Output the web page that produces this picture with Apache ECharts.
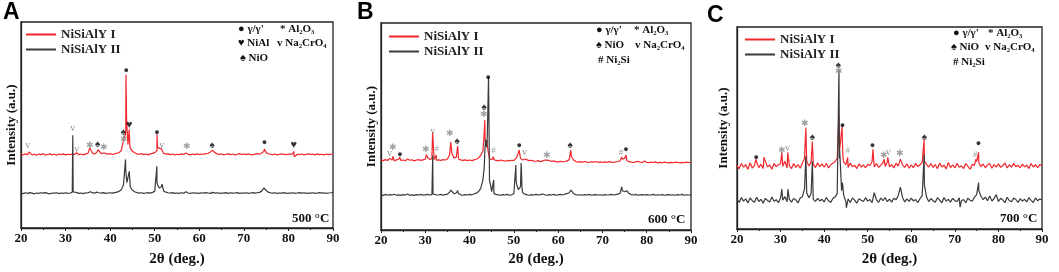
<!DOCTYPE html>
<html lang="en" style="height: 100%">
<head>
  <meta charset="utf-8">
</head>
<body style="height: 100%; margin: 0; background: #fff">
  <div id="container" style="width: 1059px; height: 272px"></div>

  <script type="text/javascript" src="https://fastly.jsdelivr.net/npm/echarts@6/dist/echarts.min.js"></script>
  <script type="text/javascript">
// baselines are sampled every 0.5 deg from 20 to 90; peaks are extra [2theta, intensity] points
var redA = [
  35.9, 35.4, 36.0, 35.6, 36.3, 35.5, 35.8, 35.3, 35.9, 35.6,
  36.1, 35.4, 35.7, 36.0, 35.5, 35.8, 35.3, 35.9, 35.6, 36.0,
  35.5, 35.8, 35.6, 35.9, 35.7, 36.5, 35.6, 35.9, 35.5, 36.0,
  36.2, 37.9, 36.4, 35.9, 36.6, 37.4, 36.1, 36.4, 36.2, 35.8,
  36.1, 35.7, 36.0, 36.3, 36.6, 37.6, 42.5, 46.0, 40.5, 38.8,
  37.2, 36.5, 36.0, 35.8, 36.1, 35.6, 35.9, 35.5, 36.0, 36.2,
  36.6, 37.5, 38.2, 38.4, 36.2, 35.9, 36.0, 35.6, 35.9, 35.5,
  35.8, 35.6, 36.0, 35.7, 36.4, 35.8, 35.5, 35.9, 35.6, 36.0,
  35.7, 35.9, 35.8, 36.1, 36.3, 36.9, 37.8, 36.6, 36.0, 35.7,
  35.9, 35.5, 35.8, 36.0, 35.6, 35.9, 35.4, 35.8, 36.1, 35.7,
  35.9, 35.6, 36.0, 35.7, 35.5, 35.9, 36.1, 35.8, 36.4, 37.2,
  36.6, 36.0, 35.8, 35.6, 35.9, 35.5, 35.8, 36.0, 35.7, 35.6,
  35.9, 35.7, 36.2, 35.2, 35.8, 35.6, 35.9, 35.5, 35.8, 36.0,
  35.7, 35.9, 35.5, 36.0, 35.6, 35.8, 35.5, 35.9, 35.6, 35.8,
  36.0
];
var redAPeaks = [[21.8, 36.9], [32.5, 37.0], [35.45, 38.8], [37.25, 38.0], [38.7, 37.3],
  [43.55, 74.4], [43.7, 52], [44.28, 47.8], [44.4, 41], [50.52, 45.4], [50.65, 39],
  [51.62, 39.2], [57.3, 37.2], [74.6, 38.4], [81.2, 37.2], [81.3, 34.6]];

var blackA = [
  17.0, 16.7, 17.1, 16.8, 17.2, 16.9, 16.6, 17.0, 16.8, 17.1,
  16.9, 17.2, 16.8, 16.6, 17.0, 16.9, 17.1, 16.7, 17.0, 16.8,
  17.1, 16.8, 17.0, 17.3, 16.9, 17.2, 16.8, 17.0, 16.7, 17.1,
  17.0, 17.6, 17.2, 16.9, 17.4, 17.1, 16.9, 17.2, 16.8, 17.0,
  17.1, 16.9, 17.2, 17.4, 17.8, 18.6, 21.0, 28.0, 21.5, 20.0,
  18.3, 17.6, 17.2, 16.9, 17.1, 16.8, 17.0, 17.2, 16.9, 17.3,
  17.8, 22.0, 19.4, 20.0, 18.0, 17.4, 17.1, 16.9, 17.2, 16.8,
  17.0, 16.8, 17.1, 16.9, 17.6, 17.0, 16.8, 17.1, 16.9, 17.0,
  16.8, 17.1, 16.9, 17.2, 17.0, 16.8, 17.3, 16.9, 17.1, 16.8,
  17.0, 16.9, 17.2, 16.8, 17.1, 16.9, 17.0, 17.2, 16.8, 17.0,
  16.9, 17.1, 16.8, 17.0, 17.2, 16.9, 17.1, 17.3, 17.9, 19.5,
  18.2, 17.4, 17.0, 16.9, 17.1, 16.8, 17.0, 16.9, 17.2, 16.8,
  17.0, 16.9, 17.1, 16.8, 17.0, 17.2, 16.9, 17.1, 16.8, 17.0,
  16.9, 17.1, 16.8, 17.0, 17.2, 16.9, 17.1, 16.8, 17.0, 17.1,
  17.3
];
var blackAPeaks = [[31.55, 17.5], [31.62, 45.0], [31.7, 17.6], [43.45, 33.3], [43.75, 22.0],
  [44.3, 27.5], [50.48, 30.0], [50.65, 21.0], [51.65, 21.3], [57.3, 18.0], [74.55, 19.8]];

var redB = [
  33.9, 33.5, 34.0, 33.6, 34.6, 33.8, 33.4, 33.9, 34.2, 33.6,
  33.8, 33.5, 34.3, 33.7, 33.9, 33.4, 33.8, 34.0, 33.6, 33.9,
  34.2, 35.0, 34.1, 34.5, 34.0, 33.7, 33.9, 33.6, 34.0, 33.8,
  34.3, 36.5, 37.0, 34.8, 35.2, 34.3, 33.9, 33.6, 33.9, 33.5,
  33.8, 33.5, 33.9, 34.2, 34.8, 36.0, 38.0, 44.0, 41.0, 34.5,
  33.9, 34.0, 33.6, 33.4, 33.8, 33.5, 33.2, 33.6, 33.4, 33.7,
  33.6, 34.6, 35.0, 34.6, 33.8, 34.3, 33.9, 33.5, 33.7, 33.3,
  33.2, 33.5, 33.0, 33.4, 33.8, 34.3, 33.6, 33.1, 33.4, 33.0,
  32.8, 33.2, 32.9, 33.1, 33.4, 34.0, 35.5, 33.8, 33.1, 32.8,
  33.0, 32.7, 33.1, 32.8, 32.6, 33.0, 32.8, 33.1, 32.7, 32.9,
  32.6, 32.9, 32.7, 33.0, 32.8, 32.6, 32.9, 33.1, 33.4, 34.2,
  34.6, 33.6, 33.0, 32.8, 32.6, 32.9, 33.2, 32.8, 32.6, 33.3,
  32.7, 32.5, 32.8, 32.6, 32.9, 32.4, 32.7, 32.5, 32.8, 32.6,
  32.4, 32.7, 32.5, 32.8, 32.6, 32.4, 32.7, 32.5, 32.8, 32.6,
  32.7
];
var redBPeaks = [[22.7, 35.5], [24.2, 35.2], [30.25, 36.4], [31.65, 47.3], [32.45, 36.2],
  [35.75, 42.5], [37.3, 40.6], [43.25, 45], [43.45, 53.1], [43.65, 42], [43.95, 43.5],
  [44.2, 38], [45.4, 35.4], [50.75, 35.6], [51.2, 38.6], [57.45, 34.4], [62.85, 38.6],
  [74.35, 35.3], [75.35, 36.2]];

var blackB = [
  17.0, 16.7, 17.2, 16.8, 17.1, 16.9, 17.3, 16.8, 17.0, 16.7,
  17.1, 16.9, 17.4, 16.8, 17.0, 16.7, 17.1, 16.9, 17.2, 16.8,
  17.0, 17.2, 16.9, 17.1, 16.8, 17.0, 16.9, 17.2, 16.8, 17.1,
  17.3, 18.3, 18.6, 17.5, 17.9, 17.6, 17.0, 16.8, 17.1, 16.9,
  17.2, 17.0, 17.4, 17.8, 18.5, 20.0, 24.0, 40.0, 45.0, 24.0,
  18.5, 17.6, 17.2, 17.0, 16.8, 17.1, 16.9, 17.2, 16.8, 17.0,
  17.5, 24.0, 19.5, 21.0, 18.0, 17.3, 17.0, 16.8, 17.1, 16.9,
  17.2, 16.9, 17.1, 17.4, 17.0, 16.8, 17.1, 16.9, 17.2, 16.8,
  17.0, 17.2, 16.9, 17.3, 17.6, 18.0, 18.8, 17.5, 17.1, 16.9,
  17.0, 16.8, 17.1, 16.9, 17.2, 16.8, 17.0, 17.1, 16.9, 17.0,
  16.8, 17.1, 16.9, 17.0, 17.2, 16.9, 17.1, 17.3, 17.8, 19.0,
  18.5, 19.0, 17.6, 17.1, 16.9, 17.2, 16.8, 17.0, 17.1, 16.9,
  17.1, 16.9, 17.0, 17.2, 16.8, 17.0, 16.9, 17.1, 16.8, 17.0,
  17.1, 16.9, 17.0, 16.8, 17.1, 16.9, 17.2, 16.8, 17.0, 16.9,
  17.0
];
var blackBPeaks = [[31.62, 17.5], [31.68, 36.0], [31.75, 17.4], [35.8, 19.3], [37.3, 19.0],
  [43.3, 30], [43.6, 43.5], [43.85, 40], [44.15, 60], [44.28, 73.9], [44.42, 45], [44.7, 22],
  [45.45, 24.2], [50.45, 31.4], [50.65, 22], [51.65, 32.4], [51.85, 20], [62.9, 19.3],
  [74.35, 20.8], [75.6, 19.3]];

var redC = [
  31.5, 29.8, 32.4, 30.6, 31.9, 29.5, 32.8, 30.2, 31.4, 33.2,
  30.4, 32.1, 29.9, 33.6, 30.8, 31.7, 29.6, 32.5, 30.9, 31.8,
  32.3, 31.0, 33.5, 30.2, 31.6, 29.8, 32.4, 30.5, 31.9, 30.1,
  32.6, 35.0, 33.5, 31.2, 33.0, 32.1, 30.4, 32.8, 30.9, 32.2,
  30.6, 32.4, 30.2, 31.8, 32.5, 33.4, 35.0, 42.0, 40.0, 33.0,
  31.9, 30.4, 32.7, 30.8, 31.5, 29.9, 32.3, 30.6, 31.8, 30.3,
  32.0, 31.4, 33.3, 30.7, 32.4, 30.5, 31.6, 32.8, 31.0, 33.2,
  30.8, 31.9, 30.2, 32.6, 31.1, 34.6, 31.8, 30.5, 32.3, 30.1,
  31.7, 30.3, 32.5, 30.9, 31.8, 32.9, 33.6, 32.0, 30.6, 32.4,
  30.5, 31.9, 29.8, 32.6, 30.7, 31.6, 29.7, 32.9, 30.4, 31.8,
  30.2, 32.5, 30.6, 31.3, 29.9, 32.4, 31.0, 29.6, 32.1, 31.5,
  33.4, 32.8, 30.9, 32.2, 30.3, 31.7, 32.4, 30.1, 31.9, 30.6,
  32.3, 30.5, 31.4, 32.7, 30.2, 31.8, 30.6, 32.5, 30.9, 31.5,
  30.3, 32.1, 30.8, 31.6, 29.9, 32.4, 30.7, 31.8, 30.4, 31.9,
  31.2
];
var redCPeaks = [[24.35, 34.5], [26.2, 35.5], [30.3, 37.9], [31.65, 37.9], [35.8, 50.2],
  [37.3, 43.3], [43.4, 56.7], [43.6, 40], [44.1, 50.7], [44.3, 36], [45.4, 35.5],
  [51.2, 39.4], [53.8, 34.5], [54.6, 35.5], [62.95, 44.3], [74.8, 34.5], [75.45, 37.9]];

var blackC = [
  14.8, 13.1, 15.6, 13.8, 14.9, 12.9, 15.4, 14.0, 13.2, 15.7,
  13.6, 14.7, 12.8, 15.2, 14.1, 13.4, 15.8, 13.7, 14.5, 13.0,
  15.5, 14.2, 16.0, 13.5, 14.8, 13.3, 15.1, 14.4, 12.9, 15.3,
  16.0, 20.0, 18.0, 15.5, 17.5, 14.8, 13.6, 15.2, 13.9, 14.7,
  13.4, 15.6, 14.0, 13.2, 15.1, 15.8, 17.5, 35.0, 19.0, 16.5,
  13.5, 14.9, 13.1, 15.4, 14.3, 12.8, 15.0, 14.2, 13.6, 15.5,
  13.8, 14.6, 13.0, 18.0, 14.4, 13.2, 15.3, 14.0, 15.6, 13.5,
  14.8, 13.3, 15.2, 14.5, 16.5, 20.7, 15.5, 13.4, 14.9, 13.7,
  15.3, 13.9, 14.6, 13.1, 15.0, 16.5, 22.0, 15.8, 13.6, 15.1,
  14.0, 13.2, 15.5, 14.3, 12.9, 15.6, 13.8, 14.7, 13.3, 15.2,
  14.1, 13.5, 15.4, 14.0, 14.6, 13.0, 15.3, 14.2, 13.7, 15.8,
  17.0, 19.0, 16.2, 14.5, 15.8, 14.0, 16.4, 13.8, 15.1, 17.0,
  13.6, 15.2, 14.4, 13.0, 15.7, 14.1, 13.5, 15.3, 14.6, 13.2,
  15.0, 13.8, 14.7, 13.4, 15.5, 14.2, 13.1, 15.4, 14.0, 14.8,
  14.5
];
var blackCPeaks = [[30.3, 19.7], [31.7, 19.7], [35.8, 36], [37.3, 33.5], [43.4, 78.8],
  [43.55, 40], [44.2, 23], [45.1, 10.5], [62.95, 37], [71.2, 10.8], [75.45, 23]];

// phase marks: [2theta, height, phase]
var marksA = [[21.5, 40, 'n'], [31.6, 48.5, 'n'], [32.5, 38.2, 'n'], [35.4, 40, 'a'], [37.2, 40.6, 'o'],
  [38.7, 39, 'a'], [43.0, 46.5, 'o'], [43.0, 43, 'a'], [44.3, 50, 'h'], [43.6, 76.5, 'g'],
  [50.5, 46.5, 'g'], [51.6, 40.3, 'n'], [57.2, 39.5, 'a'], [62.9, 40.2, 'o'], [74.6, 41.4, 'g'],
  [81.2, 40.1, 'h']];
var marksB = [[21.9, 37, 'n'], [22.6, 40, 'a'], [24.3, 36.7, 'g'], [30.2, 39, 'a'], [31.7, 47.5, 'n'],
  [32.6, 39.5, 's'], [35.6, 46.4, 'a'], [37.2, 43.1, 'o'], [43.3, 59.3, 'o'], [43.3, 56, 'a'],
  [44.2, 73.6, 'g'], [45.4, 38.3, 's'], [51.2, 40.6, 'g'], [52.4, 37.3, 'n'], [57.4, 36.2, 'a'],
  [62.7, 41, 'o'], [74.2, 37.3, 's'], [75.3, 39, 'g']];
var marksC = [[24.4, 35.3, 'g'], [30.3, 39, 'a'], [31.6, 39.7, 'n'], [35.6, 52.2, 'a'], [37.3, 45.2, 'o'],
  [43.3, 81, 'o'], [43.3, 78, 'a'], [44.2, 51.4, 'g'], [45.4, 39, 's'], [51.1, 41.5, 'g'],
  [53.7, 36.5, 'a'], [54.7, 38.1, 'n'], [57.4, 37.4, 'a'], [63.0, 45.2, 'o'], [74.6, 36.9, 's'],
  [75.4, 42.2, 'g']];

var seriesNames = ['NiSiAlY I', 'NiSiAlY II'];
var temps = ['500 °C', '600 °C', '700 °C'];
var panelLetters = ['A', 'B', 'C'];

var SERIF = '"Liberation Serif", "Times New Roman", serif';
var RED = '#f2262b';
var GREY = '#3a3a3a';

function buildLine(base, peaks) {
  var pts = base.map(function (v, i) { return [20 + i * 0.5, v]; });
  return pts.concat(peaks).sort(function (a, b) { return a[0] - b[0]; });
}

var glyph = { g: '●', a: '✱', n: 'v', o: '♠', h: '♥', s: '#' };
var markRich = {
  g: { color: '#000', fontSize: 9 },
  a: { color: '#8a8a8a', fontSize: 9 },
  n: { color: '#777', fontSize: 10, fontFamily: SERIF },
  o: { color: '#000', fontSize: 10 },
  h: { color: '#000', fontSize: 11 },
  s: { color: '#888', fontSize: 9, fontFamily: SERIF }
};

function markSeries(marks, idx) {
  return {
    name: 'marks' + idx,
    type: 'scatter',
    xAxisIndex: idx, yAxisIndex: idx,
    symbolSize: 1,
    itemStyle: { color: 'rgba(0,0,0,0)' },
    silent: true,
    z: 10,
    label: {
      show: true, position: 'inside',
      formatter: function (p) { return '{' + p.name + '|' + glyph[p.name] + '}'; },
      rich: markRich
    },
    data: marks.map(function (m) { return { name: m[2], value: [m[0], m[1]] }; })
  };
}

var grids = [
  { left: 21, top: 22, width: 312, height: 207 },
  { left: 381, top: 23, width: 310, height: 207 },
  { left: 737, top: 27, width: 305, height: 203 }
];

var xAxes = grids.map(function (g, i) {
  return {
    gridIndex: i, type: 'value', min: 20, max: 90, interval: 10,
    name: '2θ (deg.)', nameLocation: 'middle', nameGap: [24, 21, 23][i],
    nameTextStyle: { fontFamily: SERIF, fontWeight: 'bold', fontSize: 15, color: '#111' },
    axisLine: { lineStyle: { color: '#222', width: 1.3 } },
    axisTick: { length: 3, lineStyle: { color: '#222' } },
    minorTick: { show: true, splitNumber: 2, length: 2, lineStyle: { color: '#222' } },
    splitLine: { show: false },
    axisLabel: { fontFamily: SERIF, fontWeight: 'bold', fontSize: 13, color: '#111', margin: 4 }
  };
});

var yAxes = grids.map(function (g, i) {
  return {
    gridIndex: i, type: 'value', min: 0, max: 100,
    name: 'Intensity (a.u.)', nameLocation: 'middle', nameGap: [3, 3, 7][i],
    nameTextStyle: { fontFamily: SERIF, fontWeight: 'bold', fontSize: 13, color: '#111' },
    axisLine: { show: true, lineStyle: { color: '#222', width: 1.3 } },
    axisTick: { show: false }, axisLabel: { show: false }, splitLine: { show: false }
  };
});

var lines = [[redA, redAPeaks, blackA, blackAPeaks], [redB, redBPeaks, blackB, blackBPeaks], [redC, redCPeaks, blackC, blackCPeaks]];
var series = [];
lines.forEach(function (l, i) {
  series.push({ name: seriesNames[0], type: 'line', xAxisIndex: i, yAxisIndex: i, showSymbol: false,
    lineStyle: { color: RED, width: 1.2 }, itemStyle: { color: RED }, data: buildLine(l[0], l[1]) });
  series.push({ name: seriesNames[1], type: 'line', xAxisIndex: i, yAxisIndex: i, showSymbol: false,
    lineStyle: { color: GREY, width: 1.2 }, itemStyle: { color: GREY }, data: buildLine(l[2], l[3]) });
});
[marksA, marksB, marksC].forEach(function (m, i) { series.push(markSeries(m, i)); });

var legends = [[21, 23], [384, 25], [740, 28]].map(function (p) {
  return {
    data: seriesNames, left: p[0], top: p[1], orient: 'vertical', itemGap: 2,
    itemWidth: 30, itemHeight: 2, icon: 'rect', selectedMode: false,
    textStyle: { fontFamily: SERIF, fontWeight: 'bold', fontSize: 13, color: '#222' }
  };
});

var keyStyle = { fontFamily: SERIF, fontWeight: 'bold', fontSize: 11, fill: '#111' };
function keyText(x, y, text) {
  return { type: 'text', left: x, top: y - 7, style: Object.assign({ text: text }, keyStyle) };
}
var graphics = [
  keyText(238, 31, '● γ/γ\''), keyText(280, 31, '* Al₂O₃'), keyText(238, 45, '♥ NiAl'),
  keyText(277, 45, 'v Na₂CrO₄'), keyText(240, 60, '♠ NiO'),
  keyText(596, 32, '● γ/γ\''), keyText(634, 32, '* Al₂O₃'), keyText(596, 47, '♠ NiO'),
  keyText(635, 47, 'v Na₂CrO₄'), keyText(598, 62, '# Ni₂Si'),
  keyText(953, 35, '● γ/γ\''), keyText(988, 35, '* Al₂O₃'), keyText(951, 49, '♠ NiO'),
  keyText(985, 49, 'v Na₂CrO₄'), keyText(953, 64, '# Ni₂Si')
];
[[292, 212], [648, 213], [1000, 212]].forEach(function (p, i) {
  graphics.push({ type: 'text', left: p[0], top: p[1],
    style: { text: temps[i], fontFamily: SERIF, fontWeight: 'bold', fontSize: 13, fill: '#111' } });
});
[[3, 1], [357, 1], [707, 4]].forEach(function (p, i) {
  graphics.push({ type: 'text', left: p[0], top: p[1],
    style: { text: panelLetters[i], fontFamily: '"Liberation Sans", Arial, sans-serif', fontWeight: 'bold', fontSize: 23, fill: '#000' } });
});

var dom = document.getElementById('container');
var myChart = echarts.init(dom, null, { renderer: 'canvas' });
var option = {
  backgroundColor: '#fff',
  animation: false,
  grid: grids.map(function (g) { return Object.assign({ show: true, borderColor: '#222', borderWidth: 1.3 }, g); }),
  xAxis: xAxes,
  yAxis: yAxes,
  legend: legends,
  graphic: graphics,
  series: series
};
myChart.setOption(option);
window.addEventListener('resize', myChart.resize);
  </script>
</body>
</html>
